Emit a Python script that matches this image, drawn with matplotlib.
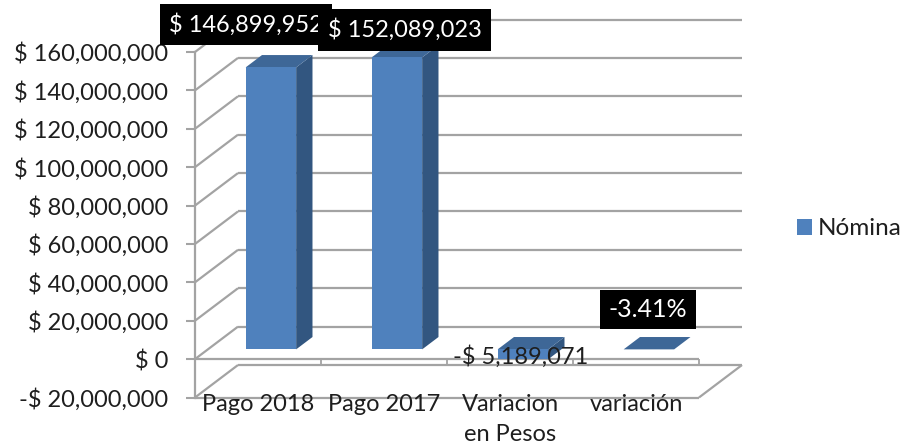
import matplotlib
matplotlib.use('Agg')
import matplotlib.pyplot as plt

categories = ['Pago 2018', 'Pago 2017', 'Variacion\nen Pesos', 'variación']
values = [146899952, 152089023, -5189071, -3.41 / 100]
value_labels = ['$ 146,899,952', '$ 152,089,023', '-$ 5,189,071', '-3.41%']
series_name = 'Nómina'
y_ticks = [-20000000, 0, 20000000, 40000000, 60000000, 80000000,
           100000000, 120000000, 140000000, 160000000]
y_tick_labels = ['-$ 20,000,000', '$ 0', '$ 20,000,000', '$ 40,000,000', '$ 60,000,000',
                 '$ 80,000,000', '$ 100,000,000', '$ 120,000,000', '$ 140,000,000',
                 '$ 160,000,000']

W, H = 906, 447
FRONT = '#4F81BD'
SIDE = '#325680'
TOP = '#3E6797'
GRID = '#A3A3A3'
TEXT = '#1E1E1E'

# depth of the fake 3d box, as x (categories) and y (dollars) shift
DX = 43 / 126
DY = 32.5 / 38.4 * 20000000
BAR_WIDTH = 50.5 / 126
BAR_D0 = 0.30  # bar front, share of the depth
BAR_D1 = 0.68  # bar back

plt.rcParams['font.family'] = ['Lato', 'DejaVu Sans']

fig = plt.figure(figsize=(W / 100, H / 100), dpi=100)
ax = fig.add_axes([195 / W, 1 - 397.5 / H, 504 / W, 345.5 / H])
ax.set_xlim(-0.5, 3.5)
ax.set_ylim(-20000000, 160000000)


def shift(x, y, d):
    """move a point of the front plane back by share d of the depth"""
    return x + d * DX, y + d * DY


def line3d(x0, y0, d0, x1, y1, d1, z=1, lw=1.6):
    a, b = shift(x0, y0, d0), shift(x1, y1, d1)
    ax.plot([a[0], b[0]], [a[1], b[1]], color=GRID, lw=lw, zorder=z,
            clip_on=False, solid_capstyle='butt')


# walls and floor
for t in y_ticks:
    line3d(-0.5, t, 0, -0.5, t, 1)
    line3d(-0.5, t, 1, 3.5, t, 1)
line3d(3.5, y_ticks[0], 0, 3.5, y_ticks[0], 1)
line3d(-0.5, y_ticks[0], 0, 3.5, y_ticks[0], 0)
line3d(-0.5, 0, 0, 3.5, 0, 0, z=1.5)
for b in [0.5, 1.5, 2.5, 3.5]:
    line3d(b, 0, 0, b, -3200000, 0, z=1.5, lw=1.3)

# bars
bar_values = [v if abs(v) > 1 else 0 for v in values]
for i, v in enumerate(bar_values):
    left = i - BAR_WIDTH / 2
    right = i + BAR_WIDTH / 2
    hi, lo = max(v, 0), min(v, 0)
    corners_top = [shift(left, hi, BAR_D0), shift(right, hi, BAR_D0),
                   shift(right, hi, BAR_D1), shift(left, hi, BAR_D1)]
    corners_side = [shift(right, lo, BAR_D0), shift(right, hi, BAR_D0),
                    shift(right, hi, BAR_D1), shift(right, lo, BAR_D1)]
    ax.fill(*zip(*corners_side), color=SIDE, lw=0, zorder=3, clip_on=False)
    ax.fill(*zip(*corners_top), color=TOP, lw=0, zorder=3, clip_on=False)

x0, y0 = shift(0, 0, BAR_D0)
front = ax.bar([i + BAR_D0 * DX for i in range(4)],
               [v for v in bar_values],
               bottom=y0, width=BAR_WIDTH, color=FRONT, lw=0, zorder=4,
               label=series_name, clip_on=False)

# data labels
label_pos = [(246, 24.5), (404.5, 30), (521, 357), (648, 309.5)]
label_size = [17, 17, 17, 18]
label_pad = [0.40, 0.40, 0, 0.33]
label_boxed = [True, True, False, True]
for i, txt in enumerate(value_labels):
    px, py = label_pos[i]
    if label_boxed[i]:
        ax.text(px / W, 1 - py / H, txt, transform=fig.transFigure, color='white',
                fontsize=label_size[i], ha='center', va='center', zorder=6 + i,
                bbox=dict(boxstyle='square,pad=%.2f' % label_pad[i], fc='black', ec='none'))
    else:
        ax.text(px / W, 1 - py / H, txt, transform=fig.transFigure, color=TEXT,
                fontsize=label_size[i], ha='center', va='center', zorder=6)

# axes
ax.set_yticks(y_ticks)
ax.set_yticklabels(y_tick_labels, fontsize=17, color=TEXT)
ax.tick_params(axis='y', length=6.5, width=1.5, color=GRID, pad=13)
ax.set_xticks(range(4))
ax.set_xticklabels(categories, fontsize=17, color=TEXT, linespacing=1.5)
ax.tick_params(axis='x', length=0, pad=-2.5)
for lab in ax.get_xticklabels():
    lab.set_zorder(6)
for s in ['top', 'right', 'bottom']:
    ax.spines[s].set_visible(False)
ax.spines['left'].set_color(GRID)
ax.spines['left'].set_linewidth(1.6)
ax.patch.set_alpha(0)

fig.legend(handles=[front], labels=[series_name], loc='center left', frameon=False,
           bbox_to_anchor=(797 / W, 1 - 229 / H), fontsize=17.5, handlelength=0.62,
           handleheight=0.62, handletextpad=0.25, labelcolor=TEXT,
           borderpad=0, borderaxespad=0)

fig.savefig('out.png', dpi=100, facecolor='white')
